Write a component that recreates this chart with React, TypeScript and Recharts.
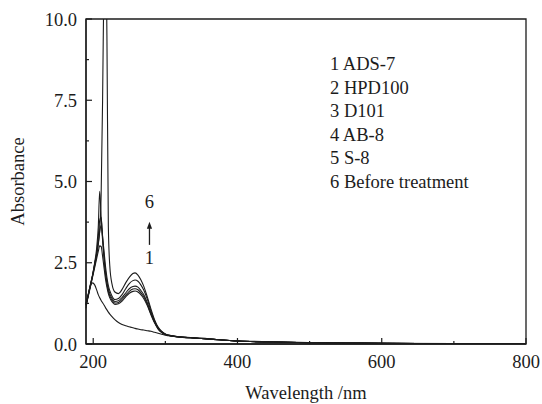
import React from 'react';
import {
  LineChart, Line, XAxis, YAxis, ReferenceArea, ReferenceDot, ReferenceLine
} from 'recharts';

// wavelength grid (nm) shared by every spectrum
const wavelengths = [
  190, 193, 196, 199, 202, 205, 207, 209, 211, 213, 215, 217, 219, 221, 223, 226, 230,
  235, 240, 245, 250, 255, 258, 262, 266, 270, 275, 280, 285, 290, 295, 300, 310, 320,
  335, 350, 375, 400, 450, 500, 550, 600, 700, 800,
];

// 1 ADS-7
const ads7 = [
  1.10, 1.50, 1.78, 1.88, 1.82, 1.65, 1.52, 1.42, 1.34, 1.27, 1.20, 1.12, 1.05, 0.98, 0.92, 0.84, 0.75,
  0.66, 0.60, 0.56, 0.53, 0.50, 0.48, 0.46, 0.44, 0.43, 0.41, 0.39, 0.36, 0.33, 0.30, 0.27, 0.24, 0.22,
  0.20, 0.18, 0.13, 0.10, 0.065, 0.045, 0.032, 0.022, 0.012, 0.005,
];
// 2 HPD100
const hpd100 = [
  1.18, 1.45, 1.75, 2.05, 2.35, 2.65, 2.85, 3.02, 3.00, 2.70, 2.35, 2.00, 1.75, 1.55, 1.42, 1.30, 1.22,
  1.24, 1.32, 1.45, 1.56, 1.62, 1.63, 1.60, 1.52, 1.40, 1.18, 0.90, 0.65, 0.46, 0.35, 0.29, 0.24, 0.21,
  0.19, 0.17, 0.13, 0.09, 0.06, 0.04, 0.03, 0.02, 0.01, 0.005,
];
// 3 D101
const d101 = [
  1.20, 1.48, 1.78, 2.08, 2.40, 2.75, 3.05, 3.45, 3.65, 3.20, 2.60, 2.15, 1.85, 1.62, 1.48, 1.35, 1.26,
  1.28, 1.37, 1.50, 1.62, 1.69, 1.70, 1.67, 1.58, 1.46, 1.22, 0.93, 0.67, 0.47, 0.36, 0.29, 0.24, 0.21,
  0.19, 0.17, 0.13, 0.09, 0.06, 0.04, 0.03, 0.02, 0.01, 0.005,
];
// 4 AB-8
const ab8 = [
  1.22, 1.50, 1.80, 2.10, 2.45, 2.85, 3.30, 3.80, 3.90, 3.30, 2.70, 2.25, 1.92, 1.70, 1.55, 1.41, 1.31,
  1.33, 1.43, 1.57, 1.70, 1.77, 1.78, 1.75, 1.65, 1.52, 1.27, 0.96, 0.69, 0.48, 0.37, 0.30, 0.25, 0.22,
  0.19, 0.17, 0.13, 0.09, 0.06, 0.04, 0.03, 0.02, 0.01, 0.005,
];
// 5 S-8
const s8 = [
  1.25, 1.52, 1.82, 2.12, 2.50, 3.00, 3.60, 4.70, 3.90, 3.30, 2.85, 2.40, 2.05, 1.80, 1.64, 1.48, 1.37,
  1.40, 1.52, 1.70, 1.86, 1.95, 1.97, 1.93, 1.82, 1.66, 1.38, 1.02, 0.72, 0.50, 0.38, 0.30, 0.25, 0.22,
  0.19, 0.17, 0.13, 0.09, 0.06, 0.04, 0.03, 0.02, 0.01, 0.005,
];
// 6 Before treatment
const before = [
  1.22, 1.50, 1.80, 2.10, 2.45, 2.80, 3.10, 3.50, 4.60, 7.50, 11.5, 13.0, 9.50, 3.60, 2.40, 1.85, 1.60,
  1.55, 1.68, 1.88, 2.05, 2.17, 2.19, 2.12, 1.98, 1.78, 1.45, 1.08, 0.75, 0.52, 0.39, 0.31, 0.25, 0.22,
  0.19, 0.17, 0.13, 0.09, 0.06, 0.04, 0.03, 0.02, 0.01, 0.005,
];

const seriesKeys = ['ads7', 'hpd100', 'd101', 'ab8', 's8', 'before'];
const legendLines = ['1 ADS-7', '2 HPD100', '3 D101', '4 AB-8', '5 S-8', '6 Before treatment'];

const xTicks = [200, 300, 400, 500, 600, 700, 800];
const xMajor = [200, 400, 600, 800];
const yTicks = [0, 1.25, 2.5, 3.75, 5, 6.25, 7.5, 8.75, 10];
const yMajor = [0, 2.5, 5, 7.5, 10];

const data = wavelengths.map((wl, i) => ({
  wl,
  ads7: ads7[i],
  hpd100: hpd100[i],
  d101: d101[i],
  ab8: ab8[i],
  s8: s8[i],
  before: before[i],
}));

const W = 542;
const H = 404;
const TOP = 19;
const RIGHT = 16;
const Y_AXIS_W = 86;
const X_AXIS_H = 60;
const PLOT_LEFT = Y_AXIS_W;
const PLOT_BOTTOM = H - X_AXIS_H;

const FONT = 'Liberation Serif, Times New Roman, Times, DejaVu Serif, serif';
const INK = '#1c1c1c';
const FS = 18.5;
const textStyle = { fontFamily: FONT, fontSize: FS, fill: INK };

const XTick = (props: any) => {
  const { x, payload } = props;
  const major = xMajor.includes(payload.value);
  return (
    <g>
      <line x1={x} x2={x} y1={PLOT_BOTTOM} y2={PLOT_BOTTOM - (major ? 6 : 3)} stroke={INK} strokeWidth={1.2} />
      {major && (
        <text x={x} y={PLOT_BOTTOM + 24} textAnchor="middle" style={textStyle}>
          {payload.value}
        </text>
      )}
    </g>
  );
};

const YTick = (props: any) => {
  const { y, payload } = props;
  const major = yMajor.includes(payload.value);
  return (
    <g>
      <line x1={PLOT_LEFT} x2={PLOT_LEFT + (major ? 6 : 3)} y1={y} y2={y} stroke={INK} strokeWidth={1.2} />
      {major && (
        <text x={77} y={y + 6.5} textAnchor="end" style={textStyle}>
          {payload.value.toFixed(1)}
        </text>
      )}
    </g>
  );
};

const Arrow = (props: any) => {
  const { x1, y1, x2, y2 } = props;
  const tipY = Math.min(y1, y2);
  const baseY = Math.max(y1, y2);
  const x = x1;
  return (
    <g>
      <line x1={x} x2={x2} y1={baseY} y2={tipY + 5} stroke={INK} strokeWidth={1.3} />
      <polygon points={`${x},${tipY} ${x - 2.6},${tipY + 7} ${x + 2.6},${tipY + 7}`} fill={INK} />
    </g>
  );
};

export default function App() {
  return (
    <div style={{ position: 'absolute', left: 0, top: 0, width: W, height: H, background: '#fff', fontFamily: FONT }}>
      <LineChart
        width={W}
        height={H}
        data={data}
        margin={{ top: TOP, right: RIGHT, left: 0, bottom: 0 }}
      >
        <XAxis
          dataKey="wl"
          type="number"
          domain={[190, 800]}
          ticks={xTicks}
          interval={0}
          height={X_AXIS_H}
          tick={<XTick />}
          tickLine={false}
          axisLine={{ stroke: INK, strokeWidth: 1.3 }}
          label={{
            value: 'Wavelength /nm',
            position: 'insideBottom',
            offset: 5,
            style: textStyle,
          }}
        />
        <YAxis
          type="number"
          domain={[0, 10]}
          allowDataOverflow
          ticks={yTicks}
          interval={0}
          width={Y_AXIS_W}
          tick={<YTick />}
          tickLine={false}
          axisLine={{ stroke: INK, strokeWidth: 1.3 }}
          label={{
            value: 'Absorbance',
            angle: -90,
            position: 'insideLeft',
            offset: 17,
            style: { ...textStyle, textAnchor: 'middle' },
          }}
        />
        <ReferenceArea x1={190} x2={800} y1={0} y2={10} fill="none" stroke={INK} strokeWidth={1.3} />
        {seriesKeys.map((k) => (
          <Line
            key={k}
            type="monotone"
            dataKey={k}
            stroke={INK}
            strokeWidth={1.1}
            dot={false}
            isAnimationActive={false}
          />
        ))}
        <ReferenceLine
          segment={[{ x: 278, y: 3.05 }, { x: 278, y: 3.76 }]}
          shape={<Arrow />}
        />
        <ReferenceDot
          x={278}
          y={4.38}
          r={0}
          fill="none"
          stroke="none"
          label={{ value: '6', position: 'center', style: textStyle }}
        />
        <ReferenceDot
          x={278}
          y={2.65}
          r={0}
          fill="none"
          stroke="none"
          label={{ value: '1', position: 'center', style: textStyle }}
        />
      </LineChart>
      <svg width={W} height={H} style={{ position: 'absolute', left: 0, top: 0, pointerEvents: 'none' }}>
        {legendLines.map((t, i) => (
          <text key={t} x={330} y={70 + i * 23.6} style={textStyle}>
            {t}
          </text>
        ))}
      </svg>
    </div>
  );
}
